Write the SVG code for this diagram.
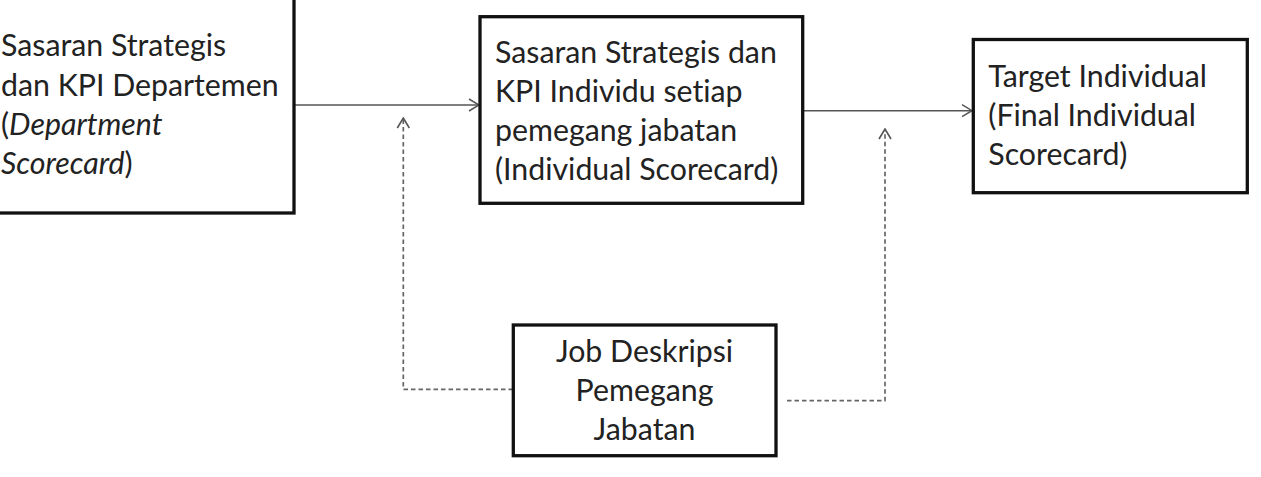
<svg xmlns="http://www.w3.org/2000/svg" width="1261" height="477" viewBox="0 0 1261 477">
<style>
.box{fill:#fff;stroke:#111;stroke-width:3.3}
.t{font-family:Lato,"Liberation Sans",sans-serif;font-size:30.3px;fill:#222;font-variant-ligatures:none}
.c{text-anchor:middle}
.i{font-style:italic}
.solid{fill:none;stroke:#555;stroke-width:1.5}
.dash{fill:none;stroke:#666;stroke-width:1.7;stroke-dasharray:4.5 3}
</style>
<defs>
<marker id="arr" viewBox="0 0 12 14" refX="11" refY="7" markerWidth="12" markerHeight="14" markerUnits="userSpaceOnUse" orient="auto">
<path d="M1,1 L11,7 L1,13" fill="none" stroke="#555" stroke-width="1.5"/>
</marker>
<marker id="arrd" viewBox="0 0 12 14" refX="11" refY="7" markerWidth="12" markerHeight="14" markerUnits="userSpaceOnUse" orient="auto">
<path d="M1,1 L11,7 L1,13" fill="none" stroke="#555" stroke-width="1.6"/>
</marker>
</defs>
<rect width="1261" height="477" fill="#fff"/>
<g id="connectors">
<line class="solid" x1="295" y1="105" x2="479" y2="105" marker-end="url(#arr)"/>
<line class="solid" x1="804" y1="110.7" x2="972" y2="110.7" marker-end="url(#arr)"/>
<path class="dash" d="M513,389.3 H403.3 V118" marker-end="url(#arrd)"/>
<path class="dash" d="M787,400.7 H885 V129" marker-end="url(#arrd)"/>
</g>
<g id="dept">
<rect class="box" x="-10" y="-10" width="304" height="223"/>
<text class="t" x="1" y="56">Sasaran Strategis</text>
<text class="t" x="1" y="95.5">dan KPI Departemen</text>
<text class="t" x="1" y="135">(<tspan class="i">Department</tspan></text>
<text class="t" x="1" y="174"><tspan class="i">Scorecard</tspan>)</text>
</g>
<g id="individu">
<rect class="box" x="480" y="16.7" width="322.7" height="186.6"/>
<text class="t" x="495" y="62.5">Sasaran Strategis dan</text>
<text class="t" x="495" y="101.5">KPI Individu setiap</text>
<text class="t" x="495" y="140.5">pemegang jabatan</text>
<text class="t" x="495" y="179.5">(Individual Scorecard)</text>
</g>
<g id="target">
<rect class="box" x="973.3" y="39.5" width="274" height="153.2"/>
<text class="t" x="988.3" y="87.3">Target Individual</text>
<text class="t" x="988.3" y="126.3">(Final Individual</text>
<text class="t" x="988.3" y="165.3">Scorecard)</text>
</g>
<g id="jobdesk">
<rect class="box" x="513.3" y="325" width="262.7" height="130.7"/>
<text class="t c" x="644.5" y="362.3">Job Deskripsi</text>
<text class="t c" x="644.5" y="400.7">Pemegang</text>
<text class="t c" x="644.5" y="440">Jabatan</text>
</g>
</svg>
